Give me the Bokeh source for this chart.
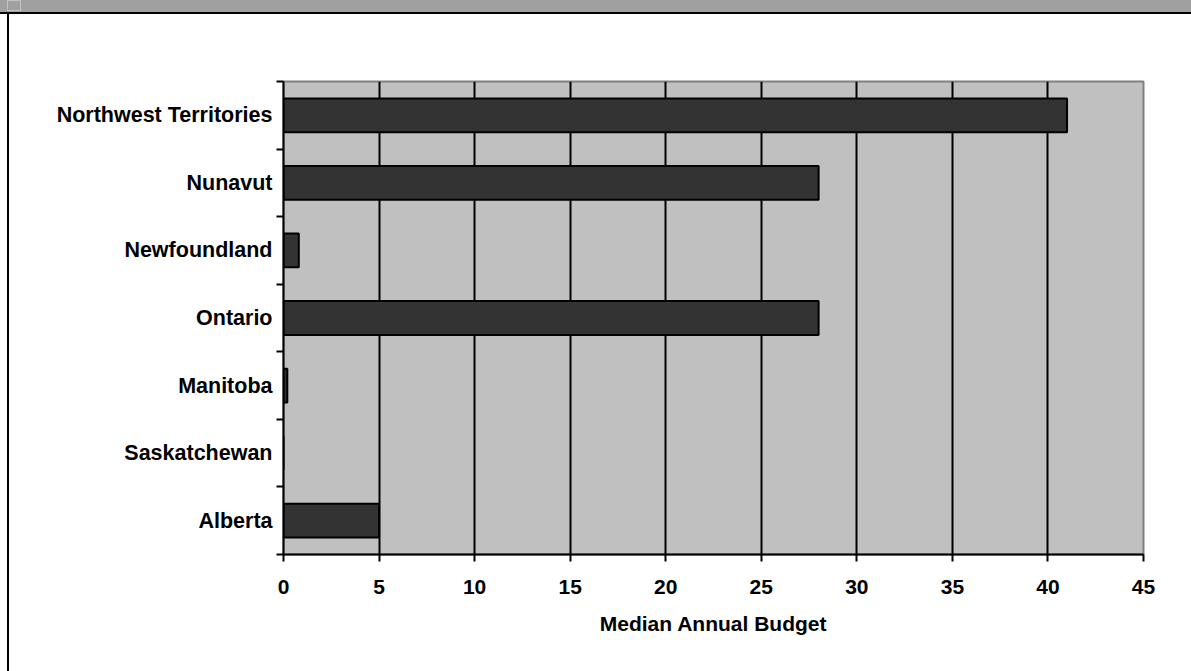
from bokeh.plotting import figure
from bokeh.models import Range1d, FixedTicker, Div, ColumnDataSource
from bokeh.layouts import column, row
from bokeh.embed import file_html
from bokeh.resources import INLINE

# Data (top to bottom in the chart)
provinces = ["Northwest Territories", "Nunavut", "Newfoundland", "Ontario",
             "Manitoba", "Saskatchewan", "Alberta"]
budgets = [41, 28, 0.8, 28, 0.2, 0, 5]
x_ticks = [0, 5, 10, 15, 20, 25, 30, 35, 40, 45]
x_title = "Median Annual Budget"

n = len(provinces)
# y positions: first province at top
y_pos = [n - i - 0.5 for i in range(n)]
src = ColumnDataSource(dict(y=y_pos, v=budgets, name=provinces))

FONT = "Liberation Sans"
W, H = 1191, 671
header_h = 14
left_w = 9
fig_w = W - left_w
fig_h = H - header_h

p = figure(width=fig_w, height=fig_h, output_backend="svg", toolbar_location=None,
           x_range=Range1d(0, 45), y_range=Range1d(0, n), margin=0,
           min_border_left=283 - left_w, min_border_top=81 - header_h,
           min_border_right=fig_w - (1143 - left_w), min_border_bottom=fig_h - (554 - header_h))
p.background_fill_color = "#c0c0c0"
p.border_fill_color = "white"
p.outline_line_color = "#808080"
p.outline_line_width = 2

p.hbar(y="y", right="v", left=0, height=0.5, source=src,
       fill_color="#333333", line_color="black", line_width=2)

# x axis
xa = p.xaxis[0]
xa.ticker = FixedTicker(ticks=x_ticks, minor_ticks=[])
xa.axis_line_color = "black"
xa.axis_line_width = 2
xa.major_tick_line_width = 2
xa.major_tick_out = 7
xa.major_tick_in = 0
xa.minor_tick_line_color = None
xa.major_label_text_font = FONT
xa.major_label_text_font_style = "bold"
xa.major_label_text_font_size = "21px"
xa.major_label_text_color = "black"
xa.major_label_standoff = 18
xa.axis_label = x_title
xa.axis_label_text_font = FONT
xa.axis_label_text_font_style = "bold"
xa.axis_label_text_font_size = "21px"
xa.axis_label_text_color = "black"
xa.axis_label_standoff = 15

# y axis: labels at centers, ticks at boundaries
ya = p.yaxis[0]
ya.ticker = FixedTicker(ticks=y_pos, minor_ticks=list(range(n + 1)))
ya.major_label_overrides = {y: name for y, name in zip(y_pos, provinces)}
ya.axis_line_color = "black"
ya.axis_line_width = 2
ya.major_tick_out = 0
ya.major_tick_in = 0
ya.major_tick_line_color = None
ya.minor_tick_line_color = "black"
ya.minor_tick_line_width = 2
ya.minor_tick_out = 7
ya.minor_tick_in = 0
ya.major_label_text_font = FONT
ya.major_label_text_font_style = "bold"
ya.major_label_text_font_size = "21.5px"
ya.major_label_text_color = "black"
ya.major_label_standoff = 4

p.ygrid.grid_line_color = None
p.xgrid.ticker = FixedTicker(ticks=x_ticks[1:-1], minor_ticks=[])
p.xgrid.grid_line_color = "black"
p.xgrid.grid_line_width = 2
p.xgrid.grid_line_alpha = 1.0

header = Div(width=W, height=header_h, margin=0,
             text='<div style="position:absolute;left:7px;top:0px;width:14px;height:11px;'
                  'box-sizing:border-box;border:1px solid #c4c4c4;"></div>',
             styles={"background": "linear-gradient(to bottom, #a0a0a0 12px, #000000 12px)",
                     "position": "relative", "padding": "0px"})
left = Div(width=left_w, height=fig_h, text="", margin=0,
           styles={"background": "linear-gradient(to right, #ffffff 7px, #000000 7px)",
                   "padding": "0px"})

layout = column(header, row(left, p, spacing=0, margin=0), spacing=0, margin=0)

open("out.html", "w").write(file_html(layout, INLINE))
